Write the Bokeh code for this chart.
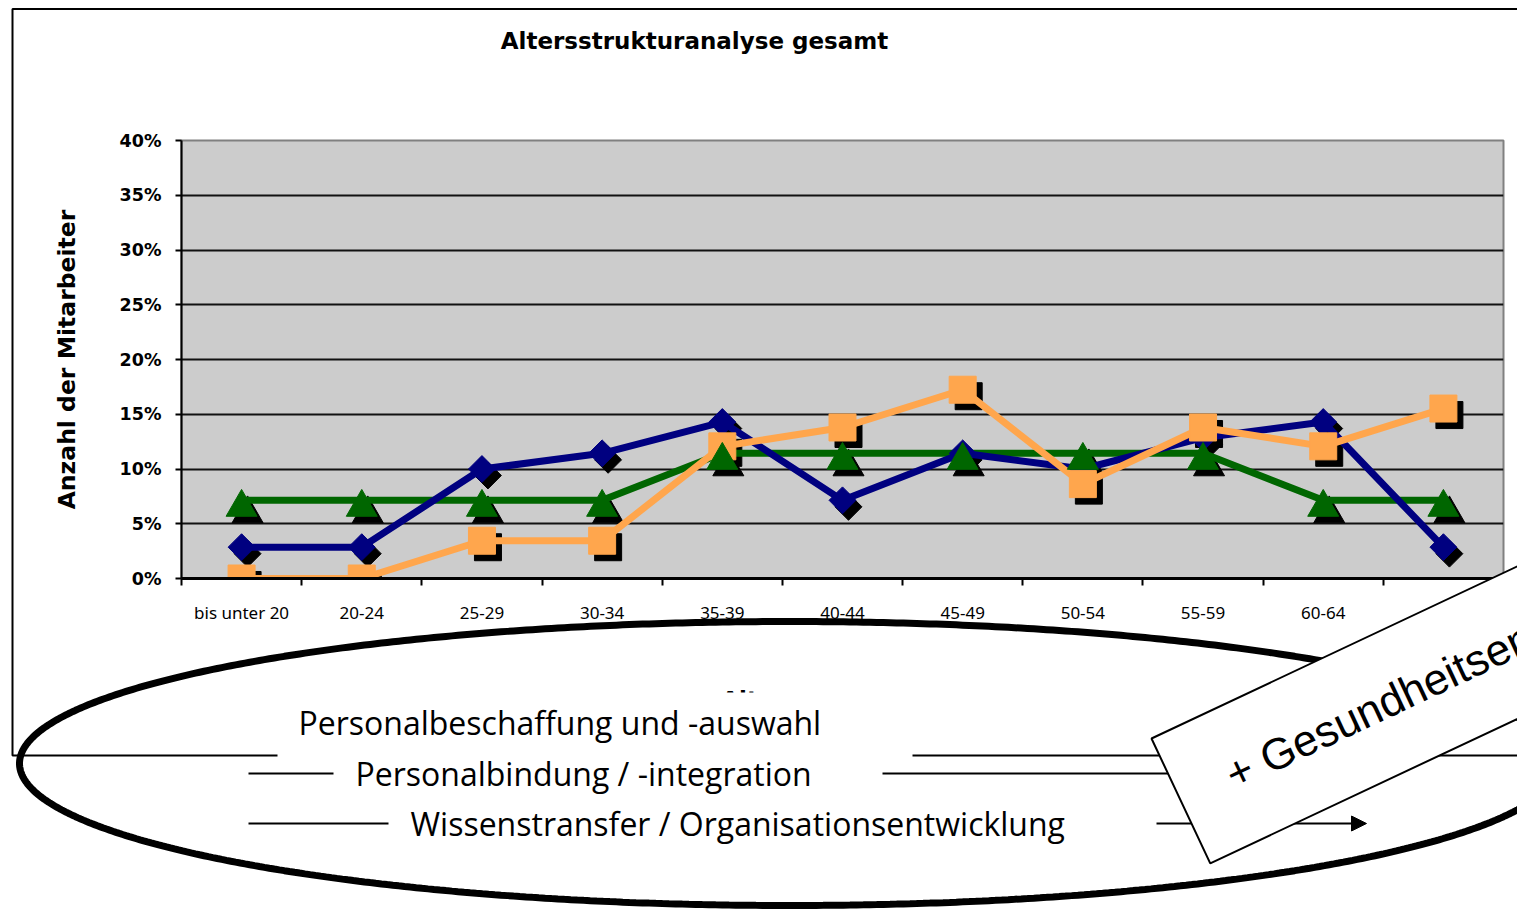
import numpy as np
from bokeh.plotting import figure
from bokeh.models import (Range1d, FixedTicker, NumeralTickFormatter, Label,
                          PolyAnnotation, Arrow, NormalHead, ColumnDataSource, GridBox)
from bokeh.transform import dodge
from bokeh.embed import file_html
from bokeh.resources import INLINE

# ---------------- data ----------------
categories = ["bis unter 20", "20-24", "25-29", "30-34", "35-39", "40-44",
              "45-49", "50-54", "55-59", "60-64", "65+"]
series_blue = [0.0286, 0.0286, 0.1000, 0.1143, 0.1429, 0.0714,
               0.1143, 0.1000, 0.1286, 0.1429, 0.0286]
series_orange = [0.0, 0.0, 0.0345, 0.0345, 0.1207, 0.1379,
                 0.1724, 0.0862, 0.1379, 0.1207, 0.1552]
series_green = [0.0714, 0.0714, 0.0714, 0.0714, 0.1143, 0.1143,
                0.1143, 0.1143, 0.1143, 0.0714, 0.0714]
y_ticks = [0.0, 0.05, 0.10, 0.15, 0.20, 0.25, 0.30, 0.35, 0.40]

title_text = "Altersstrukturanalyse gesamt"
y_label = "Anzahl der Mitarbeiter"
x_label = "Altersgruppen"
overlay_texts = ["Personalbeschaffung und -auswahl",
                 "Personalbindung / -integration",
                 "Wissenstransfer / Organisationsentwicklung"]
box_text = "+ Gesundheitsentwicklung"

# ---------------- chart figure ----------------
W, H = 1517, 912
FL, FR, FT, FB = 181, 1503, 140, 578      # frame edges in page pixels
ncat = len(categories)

p = figure(width=W, height=H, output_backend="svg", toolbar_location=None,
           x_range=Range1d(0, ncat), y_range=Range1d(0, 0.40),
           min_border_left=FL, min_border_right=W - FR,
           min_border_top=FT, min_border_bottom=H - FB,
           background_fill_color="#CCCCCC", border_fill_color="white")
p.frame_align = False
p.outline_line_color = "#808080"
p.outline_line_width = 2

p.xgrid.visible = False
p.ygrid.ticker = FixedTicker(ticks=y_ticks[1:-1])
p.ygrid.grid_line_color = "#111111"
p.ygrid.grid_line_width = 2

yax = p.yaxis[0]
yax.ticker = FixedTicker(ticks=y_ticks)
yax.formatter = NumeralTickFormatter(format="0%")
yax.major_label_text_font = "DejaVu Sans"
yax.major_label_text_font_style = "bold"
yax.major_label_text_font_size = "17.5px"
yax.major_label_text_color = "black"
yax.axis_line_width = 2
yax.axis_line_color = "black"
yax.major_tick_out = 6
yax.major_tick_in = 0
yax.major_tick_line_width = 2
yax.minor_tick_line_color = None
yax.major_label_standoff = 14
yax.axis_label = y_label
yax.axis_label_text_font = "DejaVu Sans"
yax.axis_label_text_font_style = "bold"
yax.axis_label_text_font_size = "23.5px"
yax.axis_label_text_color = "black"
yax.axis_label_standoff = 36

centers = [i + 0.5 for i in range(ncat)]
bounds = [float(i) for i in range(ncat + 1)]
xax = p.xaxis[0]
xax.ticker = FixedTicker(ticks=centers, minor_ticks=bounds)
xax.major_label_overrides = {c: lab for c, lab in zip(centers, categories)}
xax.major_tick_line_color = None
xax.major_tick_out = 0
xax.major_tick_in = 0
xax.minor_tick_out = 7
xax.minor_tick_in = 0
xax.minor_tick_line_width = 2
xax.minor_tick_line_color = "black"
xax.axis_line_width = 3
xax.axis_line_color = "black"
xax.major_label_text_font = "Noto Sans"
xax.major_label_text_font_size = "17px"
xax.major_label_text_color = "black"
xax.major_label_standoff = 15
# trailing no-break spaces shift the centred title left, as in the original
xax.axis_label = x_label + "\u00a0" * 7
xax.axis_label_text_font = "DejaVu Sans"
xax.axis_label_text_font_style = "bold"
xax.axis_label_text_font_size = "23px"
xax.axis_label_text_color = "black"
xax.axis_label_standoff = 60

src = ColumnDataSource(dict(x=centers, blue=series_blue,
                            orange=series_orange, green=series_green))
px_x = ncat / (FR - FL)          # data units per pixel (x)
px_y = 0.40 / (FB - FT)          # data units per pixel (y)
sdx, sdy = 6 * px_x, 6.5 * px_y  # shadow offset
tri_shift = 7 * px_y             # triangle vertical centring

BLUE, ORANGE, GREEN = "#000080", "#FFA64D", "#006600"

p.scatter(x=dodge("x", sdx), y=dodge("blue", -sdy), source=src, marker="square",
          angle=np.pi / 4, size=19, color="black")
p.scatter(x=dodge("x", sdx), y=dodge("orange", -sdy), source=src, marker="square",
          size=27, color="black")
p.scatter(x=dodge("x", sdx), y=dodge("green", -sdy - tri_shift), source=src,
          marker="triangle", size=31, color="black")

p.line("x", "green", source=src, line_width=7, color=GREEN)
p.line("x", "blue", source=src, line_width=7, color=BLUE)
p.line("x", "orange", source=src, line_width=7, color=ORANGE)

p.scatter("x", "blue", source=src, marker="square", angle=np.pi / 4, size=19,
          color=BLUE)
p.scatter("x", "orange", source=src, marker="square", size=27, color=ORANGE)
p.scatter(x="x", y=dodge("green", -tri_shift), source=src, marker="triangle",
          size=31, color=GREEN)

# ---------------- overlay figure (page-pixel coordinates) ----------------
q = figure(width=W, height=H, output_backend="svg", toolbar_location=None,
           x_range=Range1d(0, W), y_range=Range1d(H, 0), title=None,
           x_axis_location=None, y_axis_location=None,
           min_border_left=0, min_border_right=0, min_border_top=0, min_border_bottom=0,
           background_fill_color=None, border_fill_color=None)
q.frame_align = False
q.outline_line_color = None
q.grid.visible = False

q.add_layout(Label(x=694, y=40, text=title_text, text_align="center",
                   text_baseline="alphabetic", text_font="DejaVu Sans",
                   text_font_style="bold", text_font_size="23px", text_color="black"))

# outer chart frame
q.add_layout(PolyAnnotation(xs=[12, 1540, 1540, 12], ys=[8.5, 8.5, 755, 755],
                            fill_color=None, fill_alpha=0, line_color="black",
                            line_alpha=1, line_width=2))

# big ellipse
t = np.linspace(0, 2 * np.pi, 721)
ex = 789 + 770 * np.cos(t)
ey = 763 + 142 * np.sin(t)
q.add_layout(PolyAnnotation(xs=list(ex), ys=list(ey), fill_color=None, fill_alpha=0,
                            line_color="black", line_alpha=1, line_width=7))

# arrows
q.add_layout(Arrow(x_start=248, y_start=773, x_end=1300, y_end=773, end=None,
                   line_color="black", line_alpha=1, line_width=2))
q.add_layout(Arrow(x_start=248, y_start=823, x_end=1366, y_end=823,
                   end=NormalHead(size=15, fill_color="black", line_color="black"),
                   line_color="black", line_alpha=1, line_width=2))

# text boxes with white background
bgs = [(277, 912, 692, 757), (333, 882, 758, 800), (388, 1156, 803, 850)]
for (l, r, tp, bt) in bgs:
    q.add_layout(PolyAnnotation(xs=[l, r, r, l], ys=[tp, tp, bt, bt],
                                fill_color="white", fill_alpha=1, line_color=None))
text_pos = [(298, 722), (355, 773), (410, 823)]
for (tx, ty), txt in zip(text_pos, overlay_texts):
    q.add_layout(Label(x=tx, y=ty, text=txt, text_align="left",
                       text_baseline="alphabetic", text_font="Open Sans",
                       text_font_size="32px", text_color="black"))

# rotated box
ang = np.deg2rad(25.2)
u = np.array([np.cos(ang), -np.sin(ang)])
n = np.array([np.sin(ang), np.cos(ang)])
A = np.array([1151.0, 738.0])
Bc = A + 138 * n
L = 700
corners = [A, Bc, Bc + L * u, A + L * u]
q.add_layout(PolyAnnotation(xs=[c[0] for c in corners], ys=[c[1] for c in corners],
                            fill_color="white", fill_alpha=1, line_color="black",
                            line_alpha=1, line_width=2))
anchor = A + 53 * u + 67 * n
q.add_layout(Label(x=anchor[0], y=anchor[1], text=box_text, angle=25.2,
                   angle_units="deg", text_align="left", text_baseline="alphabetic",
                   text_font="Liberation Sans", text_font_size="44px",
                   text_color="black"))

layout = GridBox(children=[(p, 0, 0), (q, 0, 0)])
open("out.html", "w").write(file_html(layout, INLINE))
